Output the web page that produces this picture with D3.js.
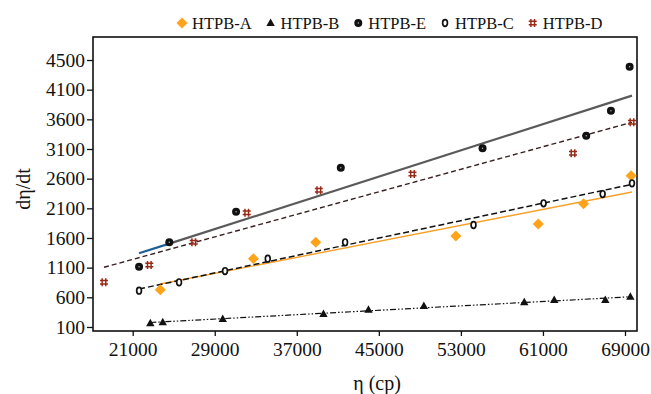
<!DOCTYPE html>
<html>
<head>
<meta charset="utf-8">
<script src="https://cdn.jsdelivr.net/npm/d3@7"></script>
<style>
  body { margin: 0; background: #fff; }
  text { font-family: "Liberation Serif", "Times New Roman", serif; fill: #111; }
</style>
</head>
<body>
<div id="chart"></div>
<script>
// Series values, [viscosity, rate]
const seriesA = [[23690, 728], [32770, 1251], [38850, 1527], [52510, 1633], [60540, 1836], [64960, 2178], [69590, 2650]];
const seriesB = [[22720, 162], [23930, 179], [29780, 234], [39600, 318], [43990, 391], [49390, 453], [59180, 516], [62100, 554], [67080, 554], [69520, 610]];
const seriesE = [[21620, 1116], [24570, 1527], [31080, 2043], [41290, 2785], [55110, 3112], [65220, 3324], [67630, 3746], [69450, 4487]];
const seriesC = [[21620, 711], [25520, 853], [30000, 1043], [34170, 1251], [41710, 1527], [54230, 1819], [61060, 2185], [66820, 2341], [69680, 2522]];
const seriesD = [[18200, 853], [22620, 1144], [26950, 1527], [32120, 2026], [39150, 2404], [48280, 2679], [63930, 3028], [69680, 3550]];

// Trend lines (end points)
const trendA = [[23690, 824], [69680, 2375]];
const trendB = [[22720, 175], [69680, 610]];
const trendE = [[24570, 1505], [69680, 3999]];
const trendEStart = [[21620, 1342], [24570, 1505]];
const trendC = [[21620, 740], [69680, 2505]];
const trendD = [[18200, 1106], [69680, 3550]];

const xTicks = [21000, 29000, 37000, 45000, 53000, 61000, 69000];
const yTicks = [100, 600, 1100, 1600, 2100, 2600, 3100, 3600, 4100, 4600];
const yTickLabels = ["100", "600", "1100", "1600", "2100", "2600", "3100", "3600", "4100", "4500"];
const legendNames = ["HTPB-A", "HTPB-B", "HTPB-E", "HTPB-C", "HTPB-D"];

let width = 651, height = 394;
let margin = { top: 37, right: 14, bottom: 63, left: 93 };

let svg = d3.select('#chart')
  .append('svg')
  .attr('width', width)
  .attr('height', height);

let xScale = d3.scaleLinear()
  .domain([17130, 70170])
  .range([margin.left, width - margin.right]);

let yScale = d3.scaleLinear()
  .domain([32, 4988])
  .range([height - margin.bottom, margin.top]);

// axes
let xAxis = svg.append('g')
  .attr('transform', `translate(0,${height - margin.bottom})`)
  .call(d3.axisBottom(xScale).tickValues(xTicks).tickSize(5).tickPadding(6).tickFormat(d3.format('d')));
xAxis.select('.domain').remove();
xAxis.selectAll('text').style('font-size', '19.5px').style('font-family', '"Liberation Serif", serif').attr('fill', '#111');
xAxis.selectAll('line').attr('stroke', '#111').attr('stroke-width', 1.3);

let yAxis = svg.append('g')
  .attr('transform', `translate(${margin.left},0)`)
  .call(d3.axisLeft(yScale).tickValues(yTicks).tickSize(6).tickPadding(2)
    .tickFormat((d, i) => yTickLabels[i]));
yAxis.select('.domain').remove();
yAxis.selectAll('text').style('font-size', '19.5px').style('font-family', '"Liberation Serif", serif').attr('fill', '#111');
yAxis.selectAll('line').attr('stroke', '#111').attr('stroke-width', 1.3);

// frame
svg.append('rect')
  .attr('x', margin.left)
  .attr('y', margin.top)
  .attr('width', width - margin.left - margin.right)
  .attr('height', height - margin.top - margin.bottom)
  .attr('fill', 'none')
  .attr('stroke', '#111')
  .attr('stroke-width', 1.6);

// axis labels
svg.append('text')
  .text('η (cp)')
  .attr('x', 377)
  .attr('y', 390)
  .attr('text-anchor', 'middle')
  .style('font-size', '20px');

svg.append('text')
  .text('dη/dt')
  .attr('transform', 'translate(30,189) rotate(-90)')
  .attr('text-anchor', 'middle')
  .style('font-size', '20px');

// trend lines
let line = d3.line().x(d => xScale(d[0])).y(d => yScale(d[1]));

const trends = [
  { data: trendB, stroke: '#111', width: 1.2, dash: '6,2,1.5,2,1.5,2' },
  { data: trendA, stroke: '#f7a02a', width: 1.4, dash: null },
  { data: trendC, stroke: '#111', width: 1.5, dash: '6,3' },
  { data: trendD, stroke: '#3a2020', width: 1.4, dash: '5,3' },
  { data: trendEStart, stroke: '#1f5f9a', width: 2.2, dash: null },
  { data: trendE, stroke: '#5a5a5a', width: 2.2, dash: null }
];
trends.forEach(t => {
  svg.append('path')
    .datum(t.data)
    .attr('d', line)
    .attr('fill', 'none')
    .attr('stroke', t.stroke)
    .attr('stroke-width', t.width)
    .attr('stroke-dasharray', t.dash);
});

// marker drawing helpers
function drawA(g) {
  g.append('path').attr('d', 'M0,-5.5L5.5,0L0,5.5L-5.5,0Z').attr('fill', '#ffa31a');
}
function drawB(g) {
  g.append('path').attr('d', 'M0,-4.5L4.2,3L-4.2,3Z').attr('fill', '#111');
}
function drawE(g) {
  g.append('circle').attr('r', 4).attr('fill', '#111');
  g.append('circle').attr('r', 0.7).attr('fill', '#bbb');
}
function drawC(g) {
  g.append('ellipse').attr('rx', 2.4).attr('ry', 3.3).attr('fill', '#fff')
    .attr('stroke', '#111').attr('stroke-width', 1.7);
}
function drawD(g) {
  g.append('path')
    .attr('d', 'M-1.8,-4V4M1.8,-4V4M-4,-1.7H4M-4,1.7H4')
    .attr('stroke', '#9a2a18').attr('stroke-width', 1.5).attr('fill', 'none');
}

const groups = [
  { data: seriesB, draw: drawB },
  { data: seriesA, draw: drawA },
  { data: seriesC, draw: drawC },
  { data: seriesD, draw: drawD },
  { data: seriesE, draw: drawE }
];
groups.forEach(s => {
  s.data.forEach(d => {
    let g = svg.append('g').attr('transform', `translate(${xScale(d[0])},${yScale(d[1])})`);
    s.draw(g);
  });
});

// legend
const legendDraw = [drawA, drawB, drawE, drawC, drawD];
let lx = 182;
legendNames.forEach((name, i) => {
  let g = svg.append('g').attr('transform', `translate(${lx},23)`);
  legendDraw[i](g);
  let t = svg.append('text')
    .text(name)
    .attr('x', lx + 10)
    .attr('y', 29)
    .style('font-size', '16.5px');
  lx = lx + 10 + t.node().getComputedTextLength() + 19;
});
</script>
</body>
</html>
